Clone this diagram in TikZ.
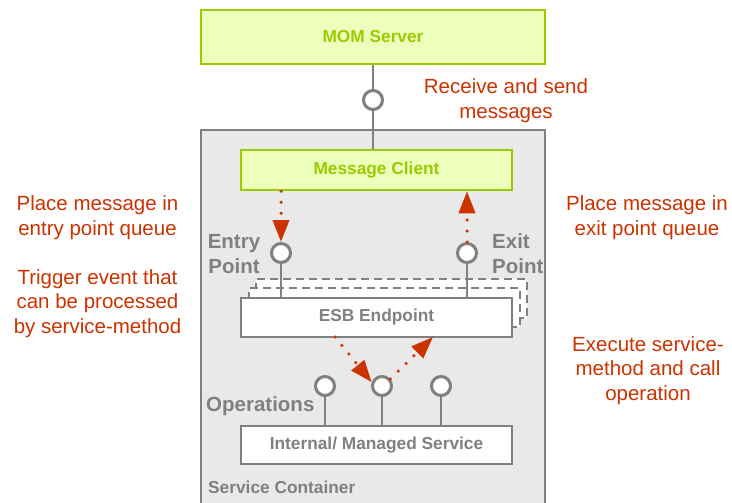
\documentclass[tikz,border=0pt]{standalone}
\usepackage{fontspec}
\setmainfont{Liberation Sans}
\usetikzlibrary{arrows.meta,calc}
\definecolor{grn}{HTML}{99CC00}
\definecolor{grnfill}{HTML}{EEFFBB}
\definecolor{gry}{HTML}{808080}
\definecolor{cont}{HTML}{E9E9E9}
\definecolor{rd}{HTML}{CC3300}
\begin{document}
\begin{tikzpicture}[x=1pt,y=-1pt,
  boxfont/.style={font=\fontsize{17.3}{20}\selectfont\bfseries},
  greenbox/.style={boxfont,draw=grn,fill=grnfill,line width=2.5pt,text=grn,inner sep=0pt},
  whitebox/.style={boxfont,draw=gry,fill=white,line width=2.2pt,text=gry,inner sep=0pt},
  dashbox/.style={draw=gry,fill=white,line width=2pt,dash pattern=on 8pt off 5pt,inner sep=0pt,minimum width=271pt,minimum height=39pt},
  port/.style={circle,draw=gry,fill=white,line width=3pt,minimum size=19pt,inner sep=0pt},
  conn/.style={draw=gry,line width=2.5pt},
  redarrow/.style={draw=rd,line width=3.5pt,line cap=round,dash pattern=on 0pt off 11pt,
     -{Triangle[length=22pt,width=16pt,fill=rd]}},
  redtext/.style={text=rd,font=\fontsize{20.5}{24.7}\selectfont,align=center,inner sep=0pt},
  graylabel/.style={text=gry,font=\fontsize{20.5}{24.7}\selectfont\bfseries,inner sep=0pt},
  smalllabel/.style={text=gry,font=\fontsize{17.3}{20}\selectfont\bfseries,inner sep=0pt}
]
\clip (0,0) rectangle (732,503);
\fill[white] (0,0) rectangle (732,503);

% service container
\node[draw=gry,fill=cont,line width=2pt,minimum width=344pt,minimum height=390pt,inner sep=0pt] (sc) at (373,325) {};

% MOM server and message client
\node[greenbox,minimum width=344pt,minimum height=54pt] (mom) at (373,37) {MOM Server};
\node[greenbox,minimum width=271pt,minimum height=40pt] (mc) at (376.5,170) {Message Client};

% ESB endpoint with stacked copies
\node[dashbox] (esbB) at (391.5,298) {};
\node[dashbox] (esbA) at (384,307) {};
\node[whitebox,minimum width=271pt,minimum height=39pt] (esb) at (376.5,317.5) {ESB Endpoint};

% internal managed service
\node[whitebox,minimum width=271pt,minimum height=38pt] (ims) at (376.5,445) {Internal/ Managed Service};

% ports
\node[port] (p0) at (373,100) {};
\node[port] (pe) at (281,253) {};
\node[port] (px) at (467,253) {};
\node[port] (o1) at (325,386) {};
\node[port] (o2) at (382,386) {};
\node[port] (o3) at (441,386) {};

% connectors
\draw[conn] (mom.south) -- (p0.north);
\draw[conn] (p0.south) -- (p0.south |- mc.north);
\draw[conn] (pe.south) -- (pe.south |- esb.north);
\draw[conn] (px.south) -- (px.south |- esb.north);
\draw[conn] (o1.south) -- (o1.south |- ims.north);
\draw[conn] (o2.south) -- (o2.south |- ims.north);
\draw[conn] (o3.south) -- (o3.south |- ims.north);

% red dotted arrows
\coordinate (a1) at (335,337);
\coordinate (a2) at (433,337);
\draw[redarrow] (pe.north |- mc.south) -- (pe.north);
\draw[redarrow] (px.north) -- (px.north |- mc.south);
\draw[redarrow] (a1) -- (o2.160);
\draw[redarrow] (o2.40) -- (a2);

% gray labels
\node[graylabel,align=center] (lentry) at (234,254) {Entry\\Point};
\node[graylabel,align=left,anchor=west] (lexit) at (492,254) {Exit\\Point};
\node[graylabel,anchor=west] (lops) at (206,406) {Operations};
\node[smalllabel,anchor=west] (lsc) at (208,487) {Service Container};

% red annotations
\node[redtext] (t1) at (506,100.5) {Receive and send\\messages};
\node[redtext] (t2) at (97.5,217.5) {Place message in\\entry point queue};
\node[redtext] (t3) at (97.5,303.5) {Trigger event that\\can be processed\\by service-method};
\node[redtext] (t4) at (647,217.5) {Place message in\\exit point queue};
\node[redtext] (t5) at (648,370.5) {Execute service-\\method and call\\operation};
\end{tikzpicture}
\end{document}
